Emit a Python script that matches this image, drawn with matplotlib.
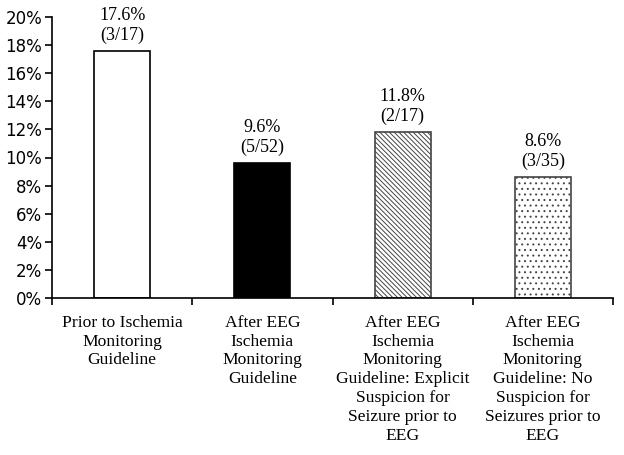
import numpy as np
import matplotlib.pyplot as plt
from matplotlib.ticker import FuncFormatter

categories = ['Prior to Ischemia\nMonitoring\nGuideline',
              'After EEG\nIschemia\nMonitoring\nGuideline',
              'After EEG\nIschemia\nMonitoring\nGuideline: Explicit\nSuspicion for\nSeizure prior to\nEEG',
              'After EEG\nIschemia\nMonitoring\nGuideline: No\nSuspicion for\nSeizures prior to\nEEG']
values = [17.6, 9.6, 11.8, 8.6]
counts = ['(3/17)', '(5/52)', '(2/17)', '(3/35)']

fig = plt.figure(figsize=(6.24, 4.55), dpi=100)
ax = fig.add_axes([52/624, 1-298/455, (613-52)/624, (298-17)/455])

x = np.arange(len(values)) + 0.5
faces = ['white', 'black', 'white', 'white']
hatches = [None, None, '\\\\\\\\\\\\\\', '...']
plt.rcParams['hatch.linewidth'] = 0.7
bars = ax.bar(x, values, width=0.4, color=faces, edgecolor='black', linewidth=1.2)
for b, h in zip(bars, hatches):
    if h:
        b.set_hatch(h)
        b.set_edgecolor('#444444')

for xi, v, c in zip(x, values, counts):
    ax.text(xi, v + 0.5, f'{v:.1f}%\n{c}', ha='center', va='bottom',
            family='Liberation Serif', fontsize=13, linespacing=1.18)

ax.set_xlim(0, 4)
ax.set_ylim(0, 20)
ax.set_yticks(np.arange(0, 21, 2))
ax.yaxis.set_major_formatter(FuncFormatter(lambda v, p: f'{v:.0f}%'))
for t in ax.get_yticklabels():
    t.set_fontsize(12)
    t.set_family('DejaVu Sans')

ax.set_xticks([0, 1, 2, 3, 4])
ax.set_xticklabels([])
ax.set_xticks(x, minor=True)
ax.set_xticklabels(categories, minor=True, family='Liberation Serif', fontsize=12.6,
                   linespacing=1.24, va='top')
ax.tick_params(axis='x', which='minor', length=0, pad=12)
ax.tick_params(axis='both', which='major', length=5, width=1.2, direction='out')
ax.tick_params(axis='y', pad=2)
ax.spines['top'].set_visible(False)
ax.spines['right'].set_visible(False)
ax.spines['left'].set_linewidth(1.2)
ax.spines['bottom'].set_linewidth(1.2)

plt.savefig('out.png', dpi=100)
